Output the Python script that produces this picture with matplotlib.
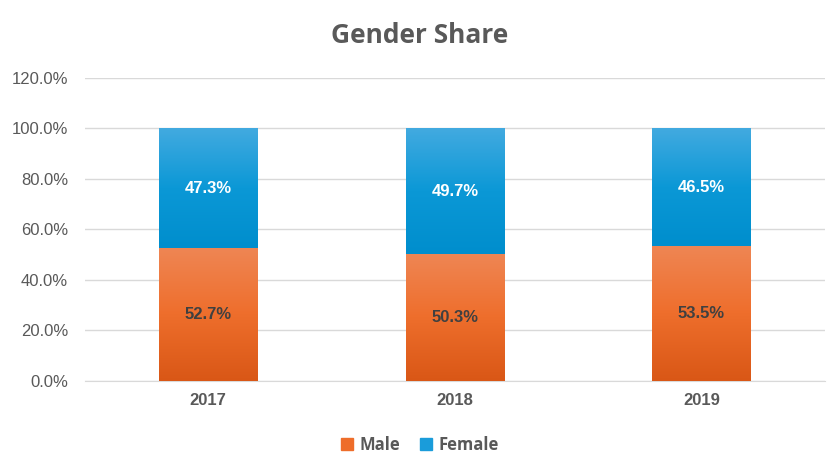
import numpy as np
import matplotlib
matplotlib.use("Agg")
import matplotlib.pyplot as plt
from matplotlib.colors import LinearSegmentedColormap
from matplotlib.patches import Patch
from matplotlib.ticker import PercentFormatter

years = ["2017", "2018", "2019"]
male = [52.7, 50.3, 53.5]
female = [47.3, 49.7, 46.5]

MALE_COLORS = ["#D95716", "#EE6E2C", "#EF8654"]
FEMALE_COLORS = ["#008ECD", "#0B98D6", "#42AAE0"]
TEXT = "#595959"

fig = plt.figure(figsize=(8.4, 4.72), dpi=100)
ax = fig.add_axes([0.101, 0.193, 0.881, 0.642])

x = np.arange(len(years))
width = 0.40


def gradient_bar(ax, xs, bottoms, heights, colors):
    cmap = LinearSegmentedColormap.from_list("g", colors)
    bars = ax.bar(xs, heights, width, bottom=bottoms, color=colors[0], zorder=2)
    grad = np.linspace(0, 1, 256).reshape(-1, 1)
    for b in bars:
        x0, y0 = b.get_x(), b.get_y()
        im = ax.imshow(grad, cmap=cmap, aspect="auto", origin="lower",
                       extent=[x0, x0 + b.get_width(), y0, y0 + b.get_height()],
                       zorder=3)
        im.set_clip_path(b)
    return bars


gradient_bar(ax, x, 0, male, MALE_COLORS)
gradient_bar(ax, x, male, female, FEMALE_COLORS)

for i in range(len(years)):
    ax.text(x[i], male[i] / 2, f"{male[i]:.1f}%", ha="center", va="center",
            fontsize=12, fontweight="bold", color="#404040",
            family="Liberation Sans", zorder=4)
    ax.text(x[i], male[i] + female[i] / 2, f"{female[i]:.1f}%", ha="center",
            va="center", fontsize=12, fontweight="bold", color="white",
            family="Liberation Sans", zorder=4)

ax.set_xlim(-0.5, len(years) - 0.5)
ax.set_ylim(0, 120)
ax.set_yticks(np.arange(0, 121, 20))
ax.yaxis.set_major_formatter(PercentFormatter(decimals=1))
ax.set_xticks(x)
ax.set_xticklabels(years, fontweight="bold")
ax.grid(axis="y", color="#D9D9D9", linewidth=1, zorder=0)
ax.set_axisbelow(True)
for s in ["top", "right", "left"]:
    ax.spines[s].set_visible(False)
ax.spines["bottom"].set_color("#D9D9D9")
ax.tick_params(axis="both", length=0, colors=TEXT, labelsize=12)
ax.tick_params(axis="y", pad=12)
ax.tick_params(axis="x", pad=9)
for lab in ax.get_xticklabels() + ax.get_yticklabels():
    lab.set_family("Liberation Sans")

fig.text(0.5, 0.925, "Gender Share", ha="center", va="center",
         fontsize=19, fontweight="bold", color=TEXT, family="Open Sans")

handles = [Patch(color="#EE6D2A", label="Male"),
           Patch(color="#1A9CDA", label="Female")]
leg = fig.legend(handles=handles, loc="center", bbox_to_anchor=(0.5, 0.057),
                 ncol=2, frameon=False, handlelength=0.7, handleheight=0.7,
                 handletextpad=0.4, columnspacing=1.2,
                 prop={"family": "Open Sans", "weight": "bold", "size": 12})
for t in leg.get_texts():
    t.set_color(TEXT)

fig.savefig("out.png", dpi=100)
